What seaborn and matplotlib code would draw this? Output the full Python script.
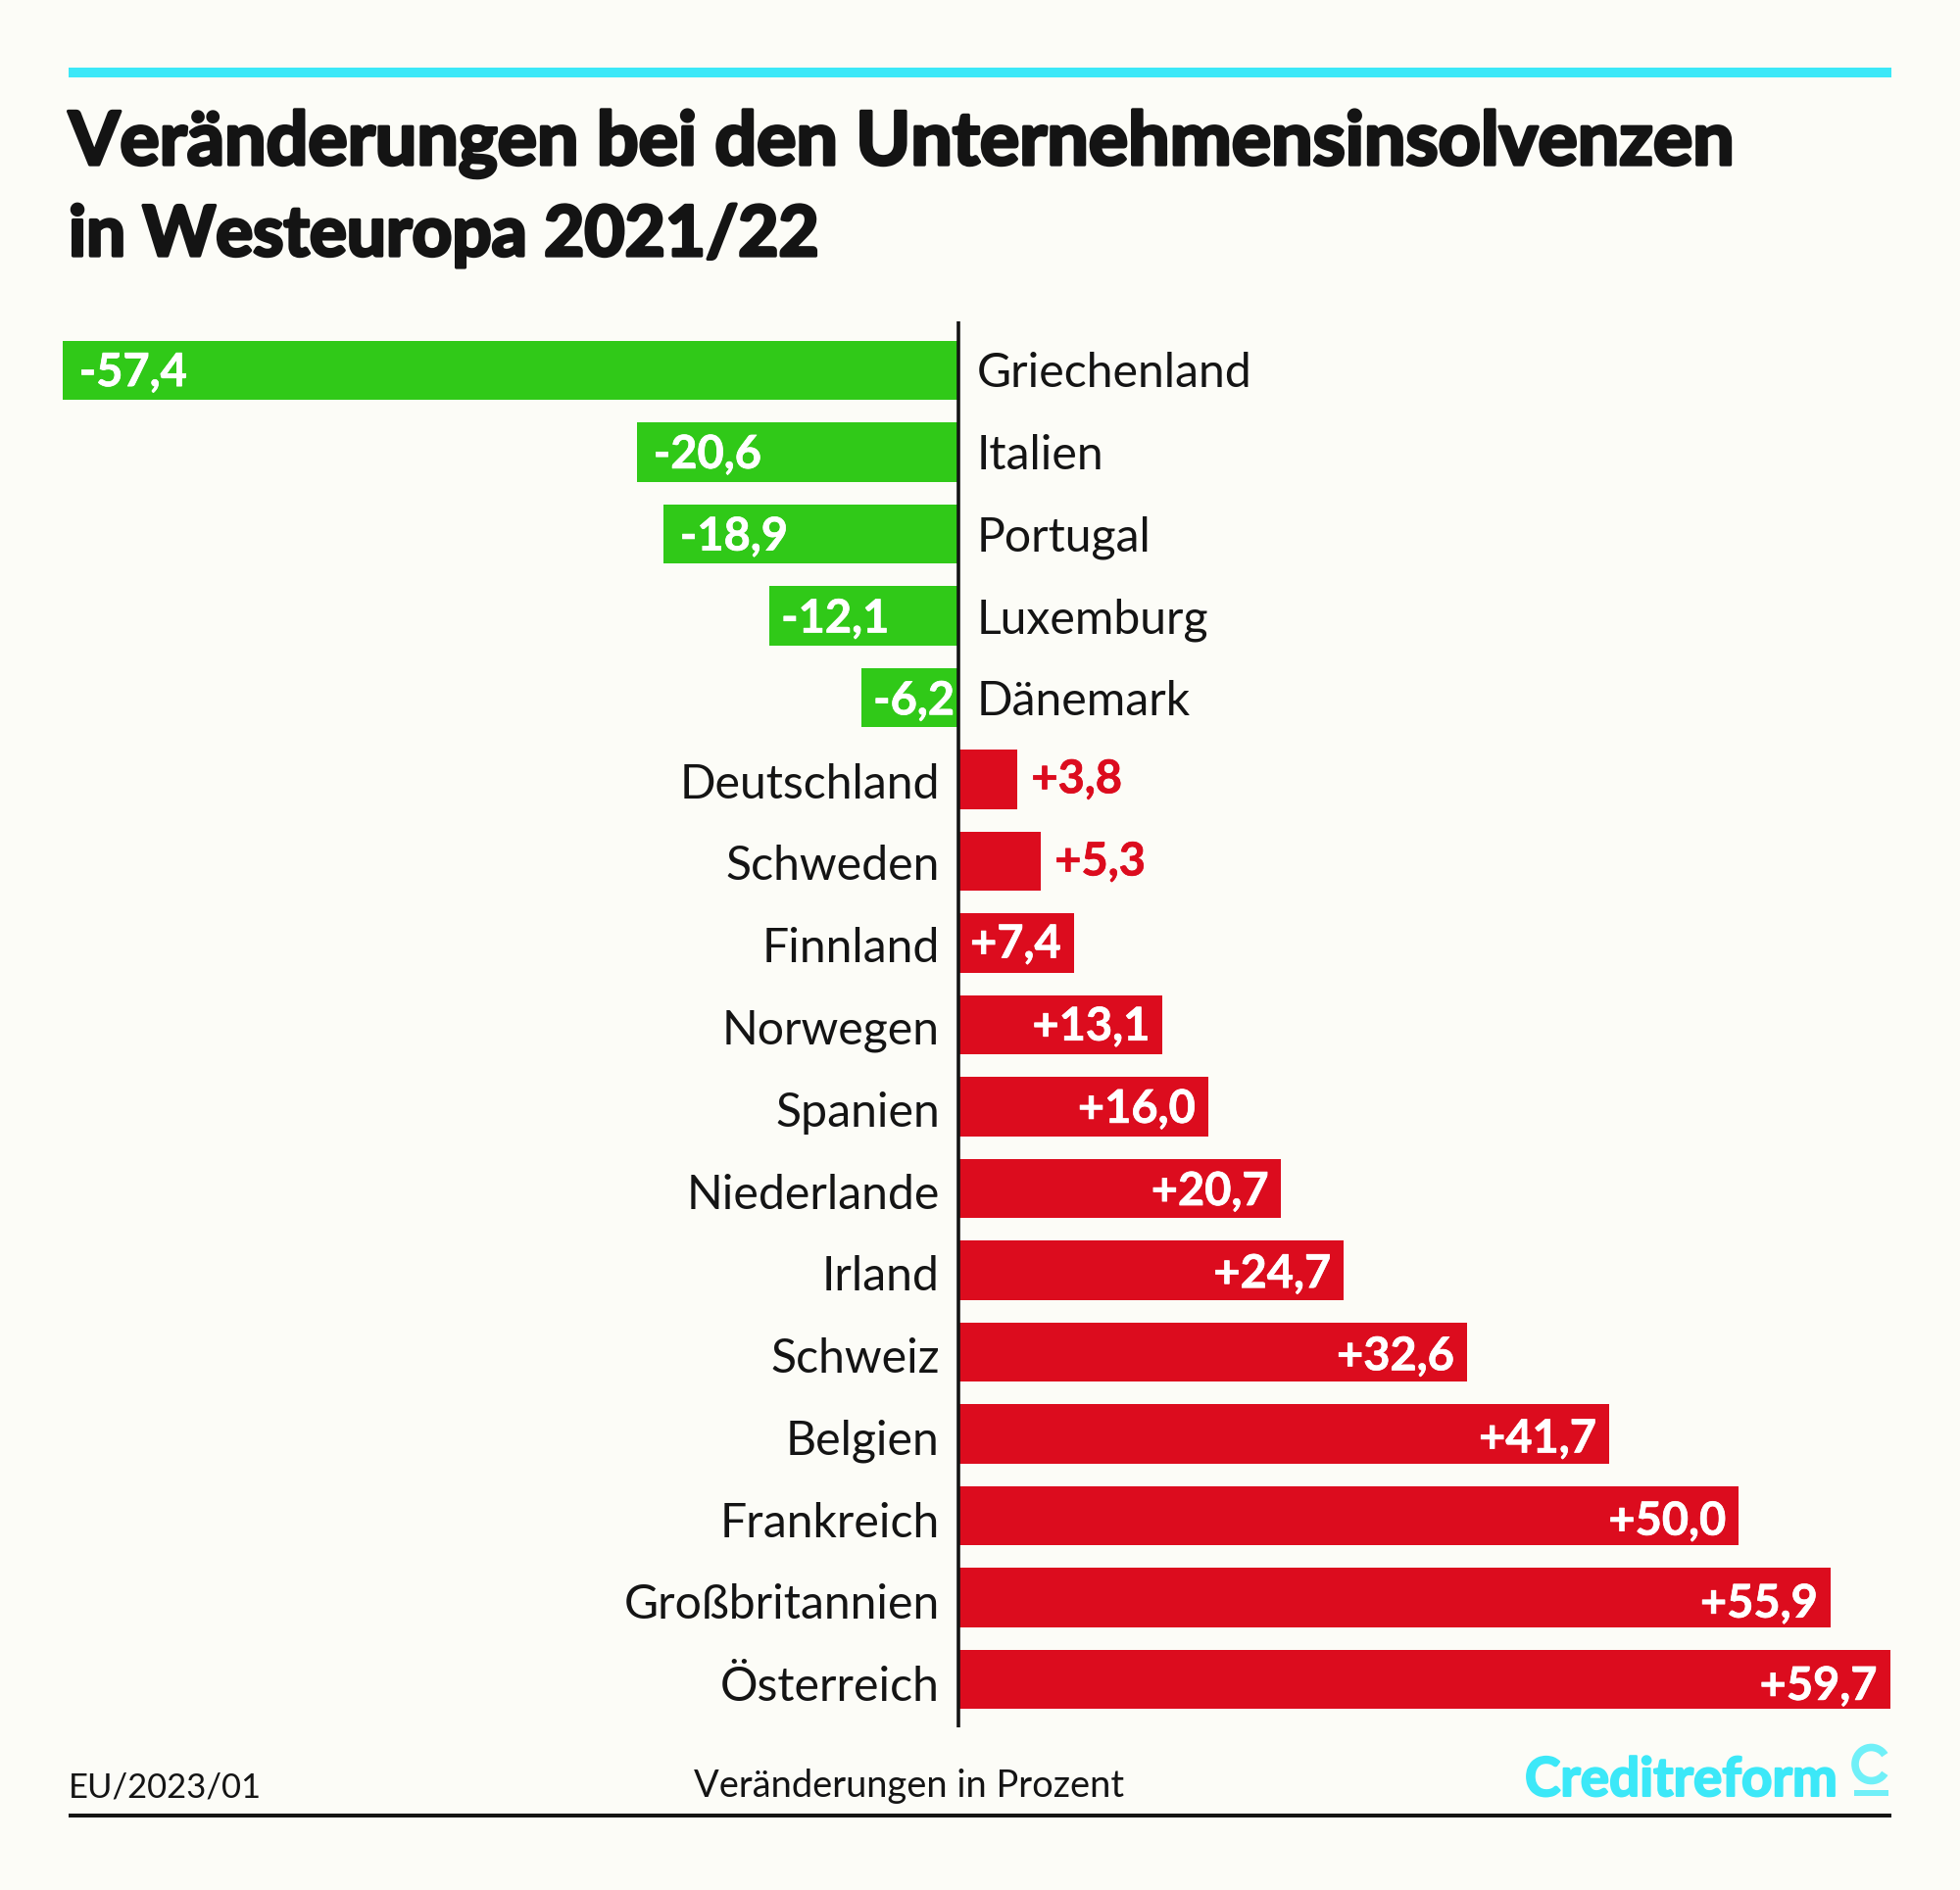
import matplotlib
matplotlib.use("Agg")
import matplotlib.pyplot as plt
from matplotlib.patches import Rectangle, Arc
import matplotlib.patheffects as pe
import seaborn as sns
import pandas as pd

countries = ["Griechenland", "Italien", "Portugal", "Luxemburg", "Dänemark", "Deutschland",
             "Schweden", "Finnland", "Norwegen", "Spanien", "Niederlande", "Irland", "Schweiz",
             "Belgien", "Frankreich", "Großbritannien", "Österreich"]
changes = [-57.4, -20.6, -18.9, -12.1, -6.2, 3.8, 5.3, 7.4, 13.1, 16.0, 20.7, 24.7, 32.6,
           41.7, 50.0, 55.9, 59.7]
title_lines = ["Veränderungen bei den Unternehmensinsolvenzen", "in Westeuropa 2021/22"]
footer_left = "EU/2023/01"
footer_mid = "Veränderungen in Prozent"
brand = "Creditreform"

BG, CYAN, CYAN2, GREEN, RED, INK = "#FCFCF7", "#3CE8F8", "#70F0F8", "#30C918", "#DC0C1E", "#141414"
W, H = 2000, 1929
FONT = "Lato"

sns.set_theme(style="white", rc={"font.family": [FONT, "DejaVu Sans"]})
plt.rcParams["font.family"] = [FONT, "DejaVu Sans"]

fig = plt.figure(figsize=(W / 100, H / 100), dpi=100, facecolor=BG)
fx = lambda p: p / W
fy = lambda p: 1 - p / H
def heavy(color, w):
    return [pe.withStroke(linewidth=w, foreground=color)]

ax = fig.add_axes([fx(63.7), fy(1763), (1928.6 - 63.7) / W, (1763 - 328) / H])
ax.set_facecolor("none")
df = pd.DataFrame({"land": countries, "wert": changes,
                   "art": ["neg" if v < 0 else "pos" for v in changes]})
sns.barplot(data=df, x="wert", y="land", hue="art", palette={"neg": GREEN, "pos": RED},
            dodge=False, width=0.722, legend=False, saturation=1, linewidth=0, ax=ax)
ax.set_xlim(-57.4, 59.7)
ax.set_ylim(16.587, -0.6)
ax.set_xlabel("")
ax.set_ylabel("")
ax.set_xticks([])
ax.set_yticks([])
for s in ax.spines.values():
    s.set_visible(False)
ax.axvline(0, color=INK, lw=2.6, zorder=5)

PT = 0.72  # pixels to points at 100 dpi
def lab(x, i, dx, dy, s, ha, color, size, weight, stroke=0):
    t = ax.annotate(s, (x, i), xytext=(dx * PT, -dy * PT), textcoords="offset points",
                    ha=ha, va="baseline", color=color, fontsize=size, fontweight=weight,
                    zorder=6, annotation_clip=False)
    if stroke:
        t.set_path_effects(heavy(color, stroke))

for i, (c, v) in enumerate(zip(countries, changes)):
    txt = f"{v:+.1f}".replace(".", ",")
    drift = i * 0.3
    if v < 0:
        lab(0, i, 19, 17 + drift, c, "left", INK, 34.7, "normal")
        lab(v, i, 17 if v < -15 else 12, 16 + drift, txt, "left", "white", 33.8, "bold", 0.5)
    else:
        lab(0, i, -19, 17.5 + drift, c, "right", INK, 34.7, "normal")
        dy = 10.5 + i * 0.65
        if v < 7:
            lab(v, i, 14, dy, txt, "left", RED, 33.8, "bold", 0.5)
        else:
            lab(v, i, -13, dy, txt, "right", "white", 33.8, "bold", 0.5)

def rect(x0, y0, x1, y1, color):
    fig.add_artist(Rectangle((fx(x0), fy(y1)), (x1 - x0) / W, (y1 - y0) / H,
                             transform=fig.transFigure, color=color, lw=0))

rect(70, 69, 1930, 79, CYAN)
rect(70, 1851, 1930, 1855, INK)

fig.text(fx(70), fy(168), title_lines[0], fontsize=54.3, fontweight="bold", color=INK,
         va="baseline", path_effects=heavy(INK, 2.4))
fig.text(fx(70), fy(261), title_lines[1], fontsize=51.2, fontweight="bold", color=INK,
         va="baseline", path_effects=heavy(INK, 2.4))
fig.text(fx(70), fy(1834), footer_left, fontsize=24.9, color=INK, va="baseline")
fig.text(fx(928), fy(1834), footer_mid, fontsize=27.4, color=INK, va="baseline", ha="center")
fig.text(fx(1556), fy(1833), brand, fontsize=39.5, fontweight="bold", color=CYAN,
         va="baseline", path_effects=heavy(CYAN, 1.5))

fig.add_artist(Arc((fx(1909.5), fy(1800.5)), 33 / W, 34 / H, theta1=35, theta2=325,
                   transform=fig.transFigure, color=CYAN2, lw=5.5))
rect(1892, 1827, 1927, 1833, CYAN2)

fig.savefig("out.png", dpi=100, facecolor=BG)
